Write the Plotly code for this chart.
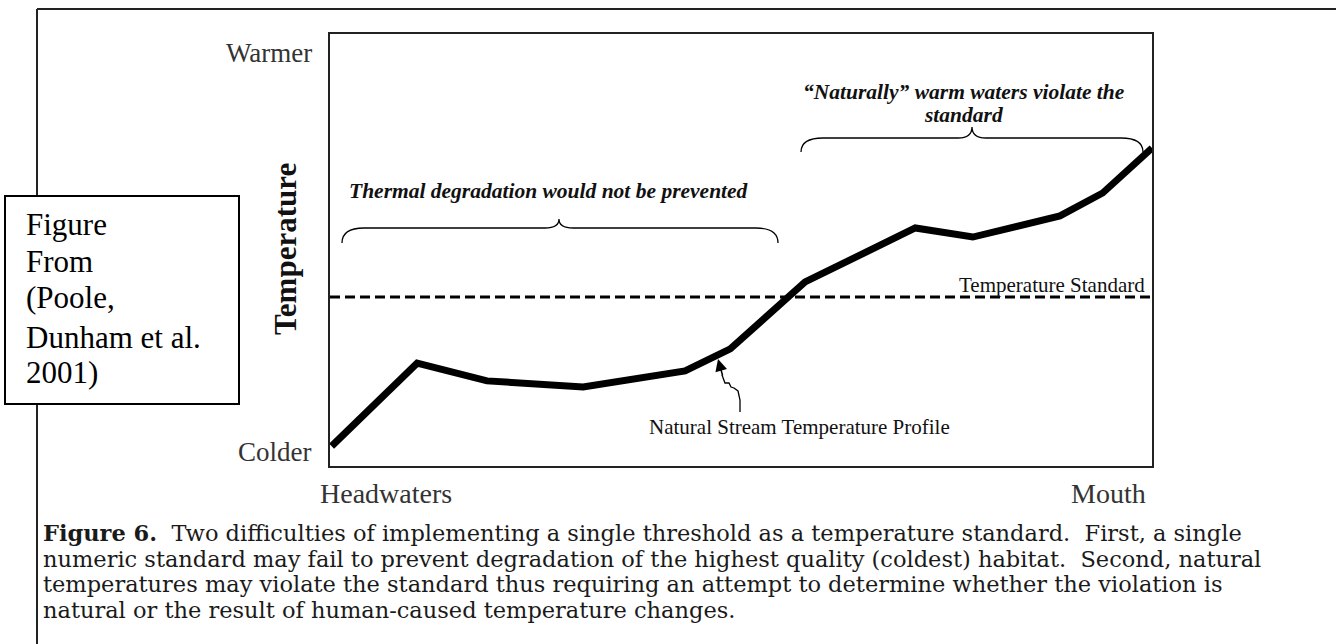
import plotly.graph_objects as go

W, H = 1336, 644

# ---- data (relative position along stream 0-100, relative temperature 0-100) ----
distance = [0.2, 10.6, 19.1, 30.8, 43.2, 48.7, 57.8, 71.2, 78.2, 88.8, 94.0, 100.0]
temperature = [4.6, 23.8, 19.7, 18.3, 22.0, 27.1, 42.6, 55.1, 53.0, 57.9, 63.2, 73.6]
standard_level = 39.1
x_labels = ["Headwaters", "Mouth"]
y_labels = ["Colder", "Warmer"]

FONT = "Liberation Serif"
CAP_FONT = "DejaVu Serif"
INK = "#111111"

def px(x):
    return x / W

def py(y):
    return 1 - y / H

# plot frame in pixels
PL, PR, PT, PB = 330, 1152, 34, 466

fig = go.Figure()

fig.add_trace(go.Scatter(
    x=distance, y=temperature, mode="lines",
    line=dict(color="black", width=7), hoverinfo="skip", showlegend=False,
))
fig.add_trace(go.Scatter(
    x=[0, 100], y=[standard_level, standard_level], mode="lines",
    line=dict(color="black", width=3, dash="10px,5px"), hoverinfo="skip", showlegend=False,
))

fig.update_xaxes(domain=[px(PL), px(PR)], range=[0, 100], showgrid=False, zeroline=False,
                 showticklabels=False, ticks="", showline=True, mirror=True,
                 linecolor="#222", linewidth=1.5)
fig.update_yaxes(domain=[py(PB), py(PT)], range=[0, 100], showgrid=False, zeroline=False,
                 showticklabels=False, ticks="", showline=True, mirror=True,
                 linecolor="#222", linewidth=1.5)

shapes = []
# outer page frame (top and left edges)
shapes.append(dict(type="line", xref="paper", yref="paper", x0=px(37), y0=py(9), x1=px(1336), y1=py(9),
                   line=dict(color="#222", width=2)))
shapes.append(dict(type="line", xref="paper", yref="paper", x0=px(37), y0=py(9), x1=px(37), y1=py(644),
                   line=dict(color="#222", width=2)))
# citation box
shapes.append(dict(type="rect", xref="paper", yref="paper", x0=px(5), y0=py(196), x1=px(239), y1=py(404),
                   line=dict(color="black", width=2), fillcolor="white", layer="above"))


def brace(x0, x1, xm, y_end, y_flat, y_tip, r=22, r2=14):
    pts = [
        f"M {px(x0):.5f},{py(y_end):.5f}",
        f"Q {px(x0):.5f},{py(y_flat):.5f} {px(x0 + r):.5f},{py(y_flat):.5f}",
        f"L {px(xm - r2):.5f},{py(y_flat):.5f}",
        f"Q {px(xm):.5f},{py(y_flat):.5f} {px(xm):.5f},{py(y_tip):.5f}",
        f"Q {px(xm):.5f},{py(y_flat):.5f} {px(xm + r2):.5f},{py(y_flat):.5f}",
        f"L {px(x1 - r):.5f},{py(y_flat):.5f}",
        f"Q {px(x1):.5f},{py(y_flat):.5f} {px(x1):.5f},{py(y_end):.5f}",
    ]
    return dict(type="path", xref="paper", yref="paper", path=" ".join(pts),
                line=dict(color="black", width=1.3))

shapes.append(brace(342, 778, 559, 243, 228, 219))
shapes.append(brace(801, 1143, 972, 152, 138, 127))

# wavy arrow tail
tail = [(740, 412), (740, 400), (738, 391), (734, 388), (731, 387), (729, 383), (725, 383), (722, 375)]
path = "M " + " L ".join(f"{px(a):.5f},{py(b):.5f}" for a, b in tail)
shapes.append(dict(type="path", xref="paper", yref="paper", path=path,
                   line=dict(color="black", width=1.3)))

ann = []

def text(x, y, s, size, xanchor="center", yanchor="middle", bold=False, italic=False, angle=0,
         color=INK, family=FONT):
    t = s
    if bold:
        t = f"<b>{t}</b>"
    if italic:
        t = f"<i>{t}</i>"
    ann.append(dict(x=px(x), y=py(y), xref="paper", yref="paper", text=t, showarrow=False,
                    xanchor=xanchor, yanchor=yanchor, textangle=angle,
                    font=dict(family=family, size=size, color=color), borderpad=0))

text(313, 53, y_labels[1], 27, xanchor="right", color="#333")
text(313, 452, y_labels[0], 27, xanchor="right", color="#333")
text(285, 249, "Temperature", 31, bold=True, angle=-90)
text(319, 494, x_labels[0], 28, xanchor="left", color="#333")
text(1147, 494, x_labels[1], 28, xanchor="right", color="#333")

text(549, 191, "Thermal degradation would not be prevented", 21.5, bold=True, italic=True)
text(964, 92, "“Naturally” warm waters violate the", 21.5, bold=True, italic=True)
text(964, 115, "standard", 21.5, bold=True, italic=True)
text(1146, 285, "Temperature Standard", 21, xanchor="right")
text(800, 427, "Natural Stream Temperature Profile", 21)

box_lines = ["Figure", "From", "(Poole,", "Dunham et al.", "2001)"]
box_centers = [225, 262, 298, 337, 372]
for s, yc in zip(box_lines, box_centers):
    text(25, yc, s, 31, xanchor="left", color="black")

# arrow head
ann.append(dict(x=px(718), y=py(359), xref="paper", yref="paper", ax=5, ay=18, text="",
                showarrow=True, arrowhead=2, arrowsize=1.6, arrowwidth=1.5, arrowcolor="black",
                standoff=0))

caption = [
    "<b>Figure 6.</b>  Two difficulties of implementing a single threshold as a temperature standard.  First, a single",
    "numeric standard may fail to prevent degradation of the highest quality (coldest) habitat.  Second, natural",
    "temperatures may violate the standard thus requiring an attempt to determine whether the violation is",
    "natural or the result of human-caused temperature changes.",
]
cap_centers = [533, 558.5, 584, 609.5]
for line, yc in zip(caption, cap_centers):
    text(42, yc, line, 22.5, xanchor="left", family=CAP_FONT, color="#1a1a1a")

fig.update_layout(width=W, height=H, margin=dict(l=0, r=0, t=0, b=0),
                  paper_bgcolor="white", plot_bgcolor="white",
                  shapes=shapes, annotations=ann, showlegend=False)

fig.write_html("out.html", config={"displayModeBar": False},
               post_script="document.body.style.margin='0';document.body.style.overflow='hidden';")
